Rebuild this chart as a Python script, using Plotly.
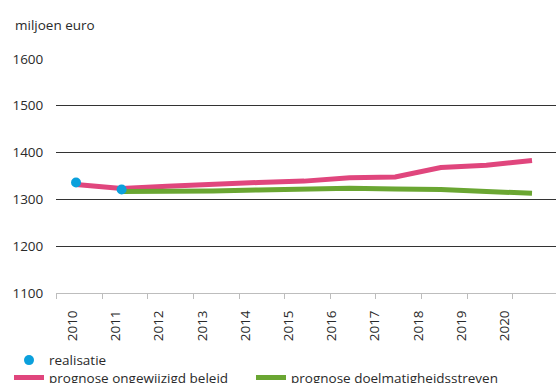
import plotly.graph_objects as go

# Jaren en waarden (miljoen euro)
jaren = [2010, 2011, 2012, 2013, 2014, 2015, 2016, 2017, 2018, 2019, 2020]
jaar_labels = [str(j) for j in jaren]

realisatie_jaren = [2010, 2011]
realisatie = [1336, 1321]

ongewijzigd_jaren = jaren
ongewijzigd = [1332, 1323, 1328, 1333, 1336, 1339, 1346, 1348, 1368, 1373, 1383]

doelmatig_jaren = jaren[1:]
doelmatig = [1317, 1317, 1318, 1320, 1322, 1324, 1322, 1321, 1317, 1313]

y_ticks = [1100, 1200, 1300, 1400, 1500, 1600]

FONT = "Open Sans"
FS = 13.5
TXT = "#2a2a2a"
BLUE = "#0ba0dc"
PINK = "#e0467d"
GREEN = "#6aa632"

fig = go.Figure()

fig.add_trace(go.Scatter(
    x=ongewijzigd_jaren, y=ongewijzigd, mode="lines",
    name="prognose ongewijzigd beleid",
    line=dict(color=PINK, width=5), legend="legend2",
))
fig.add_trace(go.Scatter(
    x=doelmatig_jaren, y=doelmatig, mode="lines",
    name="prognose doelmatigheidsstreven",
    line=dict(color=GREEN, width=5), legend="legend3",
))
fig.add_trace(go.Scatter(
    x=realisatie_jaren, y=realisatie, mode="markers",
    name="realisatie",
    marker=dict(color=BLUE, size=10), legend="legend",
))
# carrier trace for the year label axis
fig.add_trace(go.Scatter(
    x=jaar_labels, y=[None] * len(jaar_labels), xaxis="x2",
    mode="markers", showlegend=False, hoverinfo="skip",
))

legend_style = dict(
    xanchor="left", yanchor="top",
    font=dict(size=FS, color=TXT), bgcolor="rgba(0,0,0,0)",
)

fig.update_layout(
    width=556, height=383,
    margin=dict(l=56, r=0, t=58, b=90, autoexpand=False),
    paper_bgcolor="white", plot_bgcolor="white",
    font=dict(family=FONT, size=FS, color=TXT),
    xaxis=dict(
        range=[2009.561, 2020.526],
        showgrid=False, zeroline=False,
        showline=True, linecolor="#bdbdbd", linewidth=1,
        ticks="outside", ticklen=5, tickcolor="#bdbdbd",
        tick0=2009.576, dtick=1, showticklabels=False,
        automargin=False,
    ),
    xaxis2=dict(
        overlaying="x", anchor="y", side="bottom", type="category",
        range=[-0.387, 11.19],
        showgrid=False, zeroline=False, showline=False,
        ticks="outside", ticklen=11, tickcolor="rgba(0,0,0,0)",
        tickangle=-90, tickfont=dict(size=FS, color=TXT),
        automargin=False,
    ),
    yaxis=dict(
        range=[1100, 1602], tickvals=y_ticks,
        showgrid=True, gridcolor="#333333", gridwidth=1.2,
        zeroline=False, showline=False,
        ticks="outside", ticklen=9, tickcolor="rgba(0,0,0,0)",
        tickfont=dict(size=FS, color=TXT),
        automargin=False,
    ),
    legend=dict(x=-0.094, y=-0.2205, **legend_style),
    legend2=dict(x=-0.094, y=-0.295, **legend_style),
    legend3=dict(x=0.39, y=-0.295, **legend_style),
    annotations=[dict(
        text="miljoen euro", xref="paper", yref="paper",
        x=-0.086, y=1.14, xanchor="left", yanchor="middle",
        showarrow=False, font=dict(size=FS, color=TXT),
    )],
    showlegend=True,
)

fig.write_html("out.html")
